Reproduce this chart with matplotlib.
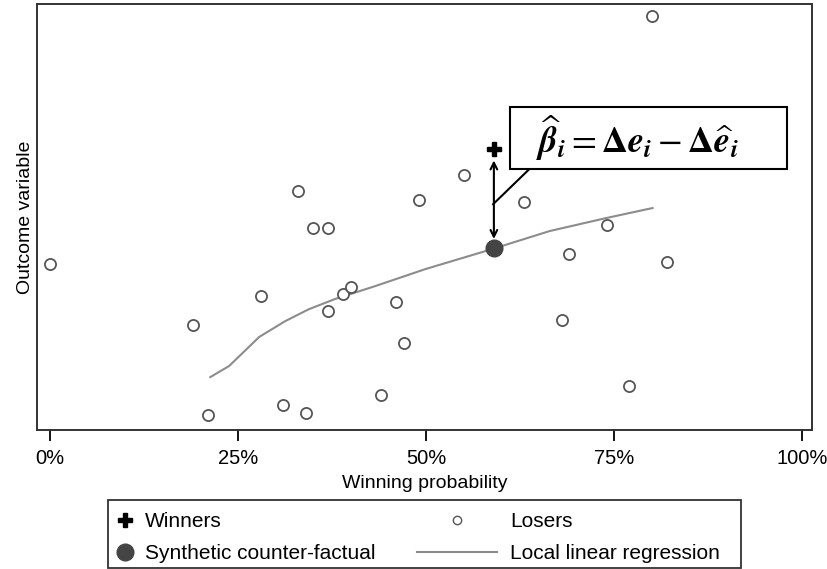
import matplotlib.pyplot as plt
from matplotlib.lines import Line2D
from matplotlib.patches import Rectangle
from matplotlib.ticker import PercentFormatter

plt.rcParams['font.family'] = ['Liberation Sans', 'DejaVu Sans']
plt.rcParams['mathtext.fontset'] = 'stix'

# Losers (winning probability, outcome)
loser_x = [0.00, 0.19, 0.21, 0.28, 0.31, 0.33, 0.34, 0.35, 0.37, 0.37, 0.39, 0.40,
           0.44, 0.46, 0.47, 0.49, 0.55, 0.63, 0.68, 0.69, 0.74, 0.77, 0.80, 0.82]
loser_y = [3.89, 2.46, 0.35, 3.14, 0.59, 5.60, 0.40, 4.73, 4.73, 2.79, 3.19, 3.35,
           0.82, 3.00, 2.04, 5.39, 5.97, 5.34, 2.58, 4.12, 4.80, 1.03, 9.70, 3.93]

# Winner and its synthetic counter-factual
winner_x, winner_y = 0.59, 6.58
synth_x, synth_y = 0.59, 4.26

# Local linear regression curve
llr_x = [0.213, 0.238, 0.278, 0.3125, 0.344, 0.379, 0.432, 0.499, 0.588, 0.664, 0.738, 0.801]
llr_y = [1.24, 1.50, 2.18, 2.55, 2.83, 3.07, 3.37, 3.77, 4.24, 4.66, 4.96, 5.20]

fig = plt.figure(figsize=(8.28, 5.69), dpi=100)
ax = fig.add_axes([37 / 828, 1 - 430 / 569, 775 / 828, 426 / 569])

ax.plot(llr_x, llr_y, color='#8c8c8c', lw=1.5, zorder=2)
ax.plot(loser_x, loser_y, 'o', ms=8, mfc='white', mec='#555555', mew=1.3, zorder=3)

# vertical double arrow between winner and counter-factual
ax.annotate('', xy=(winner_x, winner_y - 0.2), xytext=(synth_x, synth_y + 0.15),
            arrowprops=dict(arrowstyle='<->', color='black', lw=1.5, mutation_scale=12),
            zorder=4)
ax.plot([synth_x], [synth_y], 'o', ms=12, color='#444444', zorder=5)
ax.plot([winner_x], [winner_y], 'P', ms=10, color='black', zorder=5)

# formula box with leader line
ax.plot([0.589, 0.637], [5.29, 6.11], color='black', lw=1.5, zorder=4)
ax.add_patch(Rectangle((0.612, 6.11), 0.368, 1.45, fc='white', ec='black', lw=1.5, zorder=6))
ax.text(0.781, 6.84,
        r'$\widehat{\boldsymbol{\beta}}_{\boldsymbol{i}} = \mathbf{\Delta}\boldsymbol{e}_{\boldsymbol{i}}'
        r' - \mathbf{\Delta}\widehat{\boldsymbol{e}}_{\boldsymbol{i}}$',
        ha='center', va='center', fontsize=26, zorder=7)

ax.set_xlim(-0.0175, 1.013)
ax.set_ylim(0, 9.98)
ax.set_xticks([0, 0.25, 0.5, 0.75, 1.0])
ax.xaxis.set_major_formatter(PercentFormatter(1.0, decimals=0))
ax.tick_params(axis='x', direction='out', length=8, width=1.3, labelsize=14.5, pad=6)
ax.set_yticks([])
for s in ax.spines.values():
    s.set_linewidth(1.4)
    s.set_color('#333333')
ax.set_xlabel('Winning probability', fontsize=14, labelpad=5)
ax.set_ylabel('Outcome variable', fontsize=14, labelpad=2)

# legend: two columns drawn as separate legends inside one frame
col1 = [Line2D([], [], marker='P', ls='none', ms=10, color='black'),
        Line2D([], [], marker='o', ls='none', ms=12, color='#444444')]
col2 = [Line2D([], [], marker='o', ls='none', ms=6, mfc='white', mec='#555555'),
        Line2D([], [], color='#8c8c8c', lw=1.5)]
leg_kw = dict(loc='upper left', fontsize=15, frameon=False, borderpad=0,
              borderaxespad=0, labelspacing=0.62)
fig.legend(col1, ['Winners', 'Synthetic counter-factual'],
           bbox_to_anchor=(114.6 / 828, 1 - 512 / 569),
           handlelength=1.0, handletextpad=0.46, **leg_kw)
fig.legend(col2, ['Losers', 'Local linear regression'],
           bbox_to_anchor=(417 / 828, 1 - 512 / 569),
           handlelength=3.85, handletextpad=0.63, **leg_kw)
fig.add_artist(Rectangle((108 / 828, 1 - 568 / 569), 633 / 828, 68 / 569,
                         transform=fig.transFigure, fill=False, ec='#333333', lw=1.3))

fig.savefig('out.png', dpi=100)
